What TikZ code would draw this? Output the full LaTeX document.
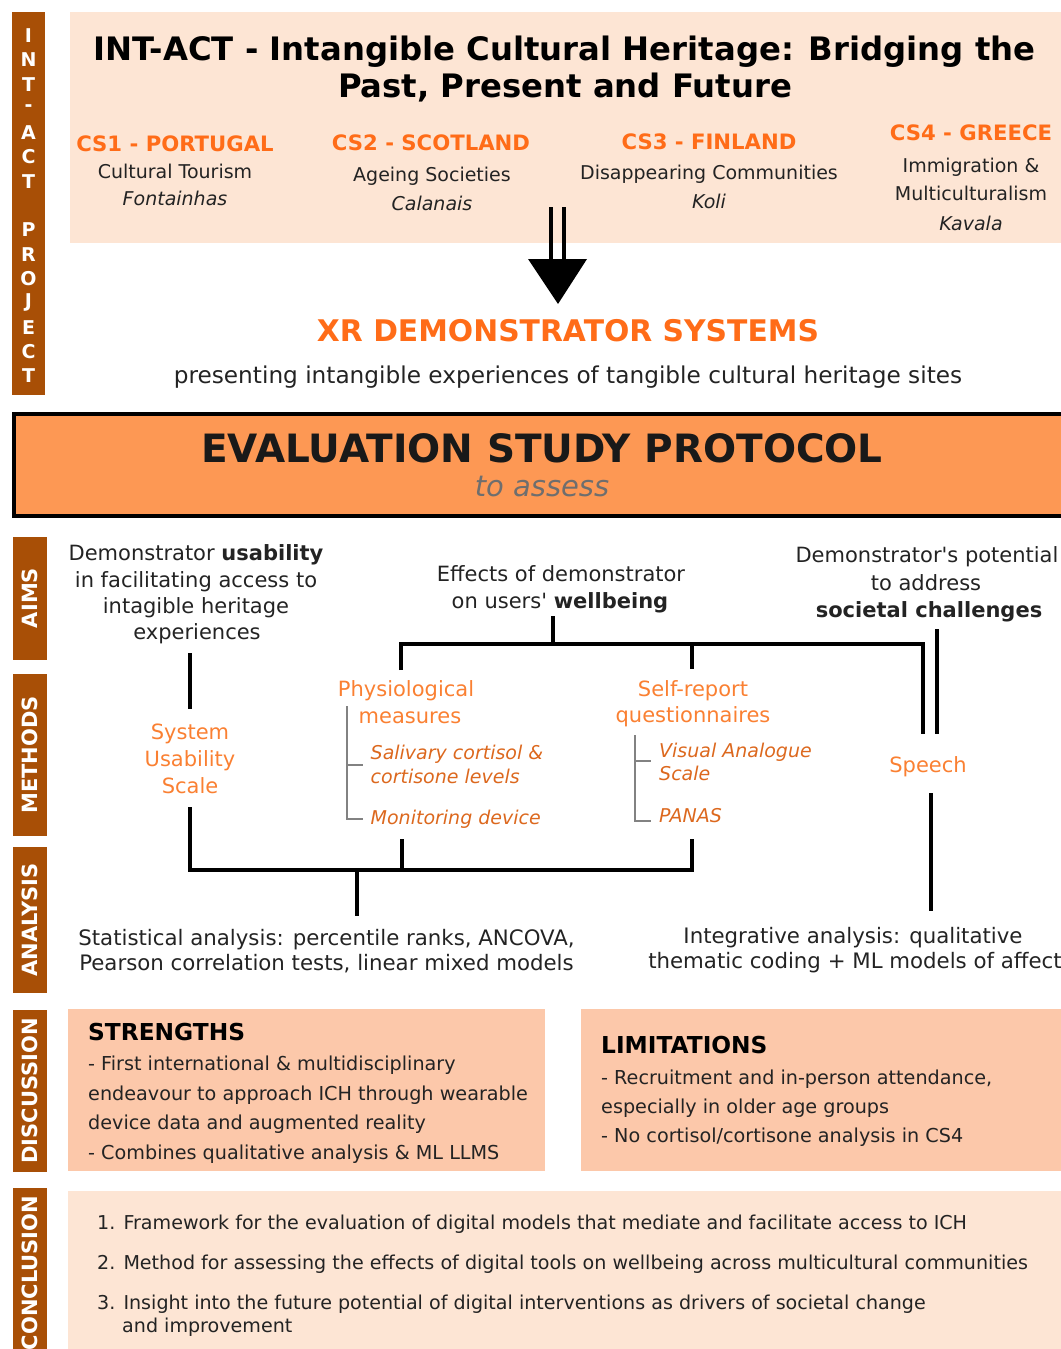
\documentclass[tikz,border=0pt]{standalone}
\usepackage{fontspec}
\setmainfont{DejaVu Sans}[Ligatures=TeXOff]
\definecolor{brownbar}{RGB}{168,79,6}
\definecolor{peach}{RGB}{253,229,212}
\definecolor{peachdark}{RGB}{252,200,170}
\definecolor{evalor}{RGB}{253,152,84}
\definecolor{ortext}{RGB}{255,108,24}
\definecolor{ormeth}{RGB}{250,128,50}
\definecolor{orital}{RGB}{220,104,30}
\definecolor{bodytxt}{RGB}{35,35,35}
\definecolor{greytxt}{RGB}{110,110,110}
\definecolor{brack}{RGB}{130,130,130}
\begin{document}
\begin{tikzpicture}[x=1pt,y=-1pt,
  base/.style={inner sep=0pt, anchor=base},
  ttl/.style={base, font=\bfseries\fontsize{32.3}{36}\selectfont, text=black, yshift=-11.8pt},
  cs/.style={base, font=\bfseries\fontsize{21.2}{25}\selectfont, text=ortext, yshift=-7.7pt},
  sub/.style={base, font=\fontsize{19}{23}\selectfont, text=bodytxt, yshift=-6.9pt},
  subit/.style={sub, font=\itshape\fontsize{19}{23}\selectfont},
  xr/.style={base, font=\bfseries\fontsize{29.8}{34}\selectfont, text=ortext, yshift=-10.9pt},
  pres/.style={base, font=\fontsize{23.2}{27}\selectfont, text=bodytxt, yshift=-8.4pt},
  evalt/.style={base, font=\bfseries\fontsize{39}{44}\selectfont, text=black!90, yshift=-14.2pt},
  assess/.style={base, font=\itshape\fontsize{29}{33}\selectfont, text=greytxt, yshift=-8.5pt},
  mid/.style={base, font=\fontsize{21}{25}\selectfont, text=bodytxt, yshift=-7.6pt},
  meth/.style={base, font=\fontsize{21}{25}\selectfont, text=ormeth, yshift=-7.6pt},
  ital/.style={base, font=\itshape\fontsize{19}{23}\selectfont, text=orital, yshift=-7pt, anchor=base west},
  ana/.style={base, font=\fontsize{21.3}{25}\selectfont, text=bodytxt, yshift=-7.7pt},
  dhead/.style={base, font=\bfseries\fontsize{23.3}{27}\selectfont, text=black, yshift=-8.5pt, anchor=base west},
  disc/.style={base, font=\fontsize{19.2}{23}\selectfont, text=bodytxt, yshift=-7pt, anchor=base west},
  conc/.style={base, font=\fontsize{19.1}{23}\selectfont, text=bodytxt, yshift=-7pt, anchor=base west},
  sidebar/.style={fill=brownbar, text=white, font=\bfseries\fontsize{21}{21}\selectfont, inner sep=0pt, minimum height=34, rotate=90},
  letter/.style={text=white, font=\bfseries\fontsize{19}{19}\selectfont, inner sep=0pt},
  conn/.style={line width=4pt, black},
  brk/.style={line width=1.3pt, brack},
  panel/.style={inner sep=0pt, draw=none}
]
\useasboundingbox (0,0) rectangle (1060,1349);

% ---------- panels ----------
\node[panel, fill=peach, minimum width=1030, minimum height=231] (topbox) at (585,127.5) {};
\node[panel, fill=evalor, draw=black, line width=3.5pt, minimum width=1100, minimum height=102] (evalbox) at (564,465) {};
\node[panel, fill=peachdark, minimum width=477, minimum height=162] (strbox) at (306.5,1090) {};
\node[panel, fill=peachdark, minimum width=519, minimum height=162] (limbox) at (840.5,1090) {};
\node[panel, fill=peach, minimum width=1032, minimum height=169] (concbox) at (584,1275.5) {};

% ---------- side bars ----------
\node[panel, fill=brownbar, minimum width=33, minimum height=383] (projbar) at (28.5,203.5) {};
\foreach \ch/\yy [count=\i] in {I/35.5,N/59.8,T/84.1,-/108.4,A/132.7,C/157,T/181.3,P/230,R/254.3,O/278.6,J/302.9,E/327.2,C/351.5,T/375.8}
  \node[letter] (L\i) at (28.5,\yy) {\ch};
\node[sidebar, minimum width=123] (aims) at (29.5,598) {AIMS};
\node[sidebar, minimum width=162] (methods) at (29.5,755) {METHODS};
\node[sidebar, minimum width=146] (analysis) at (29.5,920) {ANALYSIS};
\node[sidebar, minimum width=162] (discussion) at (29.5,1091) {DISCUSSION};
\node[panel, fill=brownbar, minimum width=34, minimum height=165] (conclbar) at (29.5,1270.5) {};
\node[sidebar, fill=none] (conclusion) at (29.5,1273) {CONCLUSION};

% ---------- top box text ----------
\node[ttl] (t1) at (564.5,49) {INT-ACT - Intangible Cultural Heritage: Bridging the};
\node[ttl] (t2) at (565,86) {Past, Present and Future};
\node[cs] (cs1) at (175,143.6) {CS1 - PORTUGAL};
\node[sub] (cs1a) at (175,172) {Cultural Tourism};
\node[subit] (cs1b) at (175,199) {Fontainhas};
\node[cs] (cs2) at (431,143) {CS2 - SCOTLAND};
\node[sub] (cs2a) at (432,175) {Ageing Societies};
\node[subit] (cs2b) at (432,204) {Calanais};
\node[cs] (cs3) at (709,142) {CS3 - FINLAND};
\node[sub] (cs3a) at (709,173) {Disappearing Communities};
\node[subit] (cs3b) at (709,202) {Koli};
\node[cs] (cs4) at (971,133) {CS4 - GREECE};
\node[sub] (cs4a) at (971,166) {Immigration \&};
\node[sub] (cs4b) at (971,194) {Multiculturalism};
\node[subit] (cs4c) at (971,224) {Kavala};

% ---------- arrow ----------
\coordinate (aL1) at (551,207); \coordinate (aL2) at (551,262);
\coordinate (aR1) at (564,207); \coordinate (aR2) at (564,262);
\coordinate (tL) at (528,259); \coordinate (tR) at (587,259); \coordinate (tA) at (558,304);
\draw[line width=4.5pt] (aL1) -- (aL2) (aR1) -- (aR2);
\fill[black] (tL) -- (tR) -- (tA) -- cycle;

\node[xr] (xr) at (568,331) {XR DEMONSTRATOR SYSTEMS};
\node[pres] (pres) at (568,375) {presenting intangible experiences of tangible cultural heritage sites};

% ---------- evaluation ----------
\node[evalt] (evt) at (542,448) {EVALUATION STUDY PROTOCOL};
\node[assess] (ass) at (542,488) {to assess};

% ---------- aims ----------
\node[mid] (a1) at (196,553) {Demonstrator \textbf{usability}};
\node[mid] (a2) at (196,580) {in facilitating access to};
\node[mid] (a3) at (196,606) {intagible heritage};
\node[mid] (a4) at (197,632) {experiences};
\node[mid] (b1) at (561,574) {Effects of demonstrator};
\node[mid] (b2) at (560,601) {on users' \textbf{wellbeing}};
\node[mid] (c1) at (927,555) {Demonstrator's potential};
\node[mid] (c2) at (926,583) {to address};
\node[mid] (c3) at (929,610) {\textbf{societal challenges}};

% ---------- methods ----------
\node[meth] (sus1) at (190,732) {System};
\node[meth] (sus2) at (190,759) {Usability};
\node[meth] (sus3) at (190,786) {Scale};
\node[meth] (ph1) at (406,689) {Physiological};
\node[meth] (ph2) at (410,716) {measures};
\node[ital] (ph3) at (370.5,752) {Salivary cortisol \&};
\node[ital] (ph4) at (370.5,776) {cortisone levels};
\node[ital] (ph5) at (370.5,817) {Monitoring device};
\node[meth] (sr1) at (693,689) {Self-report};
\node[meth] (sr2) at (693,715) {questionnaires};
\node[ital] (sr3) at (659,750) {Visual Analogue};
\node[ital] (sr4) at (659,773) {Scale};
\node[ital] (sr5) at (659,815) {PANAS};
\node[meth] (sp) at (928,765) {Speech};

% ---------- analysis ----------
\node[ana] (st1) at (326.5,938) {Statistical analysis: percentile ranks, ANCOVA,};
\node[ana] (st2) at (326.5,963) {Pearson correlation tests, linear mixed models};
\node[ana] (in1) at (853,936) {Integrative analysis: qualitative};
\node[ana] (in2) at (855,961) {thematic coding + ML models of affect};

% ---------- connectors ----------
\coordinate (u1) at (190,653); \coordinate (u2) at (190,709);
\coordinate (u3) at (190,807); \coordinate (u4) at (190,870);
\coordinate (u5) at (692,870); \coordinate (u6) at (692,839);
\coordinate (p1) at (402,839); \coordinate (p2) at (402,870);
\coordinate (s1) at (357,870); \coordinate (s2) at (357,916);
\coordinate (w1) at (553,616); \coordinate (w2) at (553,644);
\coordinate (w3) at (401,670); \coordinate (w4) at (401,644);
\coordinate (w5) at (922.5,644); \coordinate (w6) at (922.5,734);
\coordinate (w7) at (692,644); \coordinate (w8) at (692,669);
\coordinate (sc1) at (937,629); \coordinate (sc2) at (937,734);
\coordinate (sp1) at (931,793); \coordinate (sp2) at (931,911);
\draw[conn] (u1) -- (u2);
\draw[conn] (u3) -- (u4) -- (u5) -- (u6);
\draw[conn] (p1) -- (p2);
\draw[conn] (s1) -- (s2);
\draw[conn] (w1) -- (w2);
\draw[conn] (w3) -- (w4) -- (w5) -- (w6);
\draw[conn] (w7) -- (w8);
\draw[conn] (sc1) -- (sc2);
\draw[conn] (sp1) -- (sp2);
% brackets
\coordinate (k1) at (347,706); \coordinate (k2) at (347,819); \coordinate (k3) at (363,819);
\coordinate (k4) at (347,765); \coordinate (k5) at (363,765);
\coordinate (q1) at (635,735); \coordinate (q2) at (635,821); \coordinate (q3) at (651,821);
\coordinate (q4) at (635,761); \coordinate (q5) at (651,761);
\draw[brk] (k1) -- (k2) -- (k3) (k4) -- (k5);
\draw[brk] (q1) -- (q2) -- (q3) (q4) -- (q5);

% ---------- discussion ----------
\node[dhead] (sh) at (88,1032) {STRENGTHS};
\node[disc] (s_1) at (88,1063) {- First international \& multidisciplinary};
\node[disc] (s_2) at (88,1093) {endeavour to approach ICH through wearable};
\node[disc] (s_3) at (88,1122) {device data and augmented reality};
\node[disc] (s_4) at (88,1152) {- Combines qualitative analysis \& ML LLMS};
\node[dhead] (lh) at (601,1045) {LIMITATIONS};
\node[disc] (l_1) at (601,1077) {- Recruitment and in-person attendance,};
\node[disc] (l_2) at (601,1106) {especially in older age groups};
\node[disc] (l_3) at (601,1135) {- No cortisol/cortisone analysis in CS4};

% ---------- conclusion ----------
\node[conc] (k_1) at (97,1222) {1. Framework for the evaluation of digital models that mediate and facilitate access to ICH};
\node[conc] (k_2) at (97,1262) {2. Method for assessing the effects of digital tools on wellbeing across multicultural communities};
\node[conc] (k_3) at (97,1302) {3. Insight into the future potential of digital interventions as drivers of societal change};
\node[conc] (k_4) at (122,1325) {and improvement};
\end{tikzpicture}
\end{document}
